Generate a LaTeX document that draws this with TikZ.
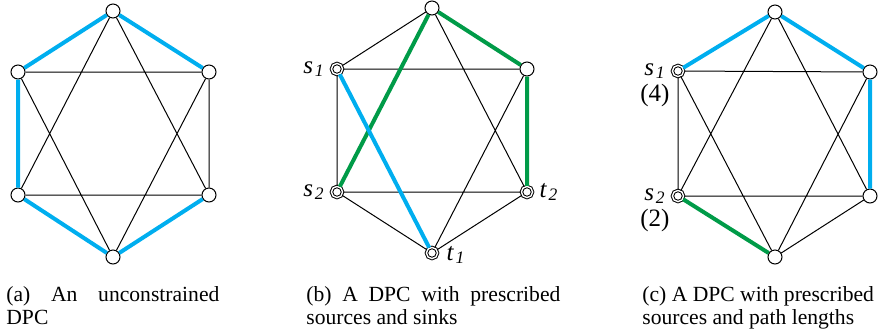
\documentclass[tikz,border=0pt]{standalone}
\usepackage{fontspec}
\setmainfont{Liberation Serif}
\usetikzlibrary{positioning}
\definecolor{dpcblue}{RGB}{0,174,239}
\definecolor{dpcgreen}{RGB}{0,155,72}
\newcommand{\lblsub}[2]{\textit{#1}\kern0.8pt\textsubscript{\textit{#2}}}
\tikzset{
  vtx/.style={circle,draw,fill=white,inner sep=0pt,minimum size=7pt,line width=0.5pt},
  term/.style={vtx,minimum size=5.6pt,double,double distance=0.7pt},
  thinline/.style={line width=0.5pt},
  bluepath/.style={dpcblue,line width=2pt},
  greenpath/.style={dpcgreen,line width=2pt},
  lbl/.style={inner sep=0pt,font=\fontsize{12.5}{14}\selectfont},
  capt/.style={inner sep=0pt,align=left,font=\fontsize{10.8}{11.5}\selectfont}
}
\begin{document}
\begin{tikzpicture}[x=0.5pt,y=-0.5pt]
\useasboundingbox (0,0) rectangle (880,328);
% (a) unconstrained
\node[vtx] (a1) at (113,11) {};
\node[vtx] (a2) at (209,72) {};
\node[vtx] (a3) at (209,195) {};
\node[vtx] (a4) at (113,257) {};
\node[vtx] (a5) at (18,195) {};
\node[vtx] (a6) at (18,72) {};
\draw[thinline] (a6) -- (a2) (a5) -- (a3) (a2) -- (a3) (a1) -- (a5) (a1) -- (a3) (a4) -- (a6) (a4) -- (a2);
\draw[bluepath] (a2) -- (a1) -- (a6) -- (a5) -- (a4) -- (a3);
\node[capt,anchor=base west] (capa) at (6,324) {\makebox[106.5pt][s]{(a) An unconstrained}\\DPC};
% (b) sources and sinks
\node[vtx] (b1) at (432,8) {};
\node[vtx] (b2) at (527,69) {};
\node[term] (b3) at (527,192) {};
\node[term] (b4) at (432,253) {};
\node[term] (b5) at (337,192) {};
\node[term] (b6) at (337,69) {};
\draw[thinline] (b1) -- (b6) (b1) -- (b3) (b6) -- (b2) (b6) -- (b5) (b2) -- (b4) (b5) -- (b3) (b5) -- (b4) (b3) -- (b4);
\draw[greenpath] (b5) -- (b1) -- (b2) -- (b3);
\draw[bluepath] (b6) -- (b4);
\node[lbl,left=3pt of b6] (s1b) {\lblsub{s}{1}};
\node[lbl,left=3pt of b5] (s2b) {\lblsub{s}{2}};
\node[lbl,right=3pt of b3] (t2b) {\lblsub{t}{2}};
\node[lbl,right=4pt of b4,yshift=-1pt] (t1b) {\lblsub{t}{1}};
\node[capt,anchor=base west] (capb) at (306,324) {\makebox[127pt][s]{(b) A DPC with prescribed}\\sources and sinks};
% (c) sources and path lengths
\node[vtx] (c1) at (775,12) {};
\node[vtx] (c2) at (870,72) {};
\node[vtx] (c3) at (870,196) {};
\node[vtx] (c4) at (775,257) {};
\node[term] (c5) at (678,196) {};
\node[term] (c6) at (678,71) {};
\draw[thinline] (c6) -- (c2) (c6) -- (c5) (c6) -- (c4) (c1) -- (c5) (c1) -- (c3) (c2) -- (c4) (c5) -- (c3) (c3) -- (c4);
\draw[bluepath] (c6) -- (c1) -- (c2) -- (c3);
\draw[greenpath] (c5) -- (c4);
\node[lbl,left=3pt of c6] (s1c) {\lblsub{s}{1}};
\node[lbl,below=2.5pt of s1c] (l4c) {(4)};
\node[lbl,left=3pt of c5] (s2c) {\lblsub{s}{2}};
\node[lbl,below=2.5pt of s2c] (l2c) {(2)};
\node[capt,anchor=base west] (capc) at (642,324) {(c) A DPC with prescribed\\sources and path lengths};
\end{tikzpicture}
\end{document}
